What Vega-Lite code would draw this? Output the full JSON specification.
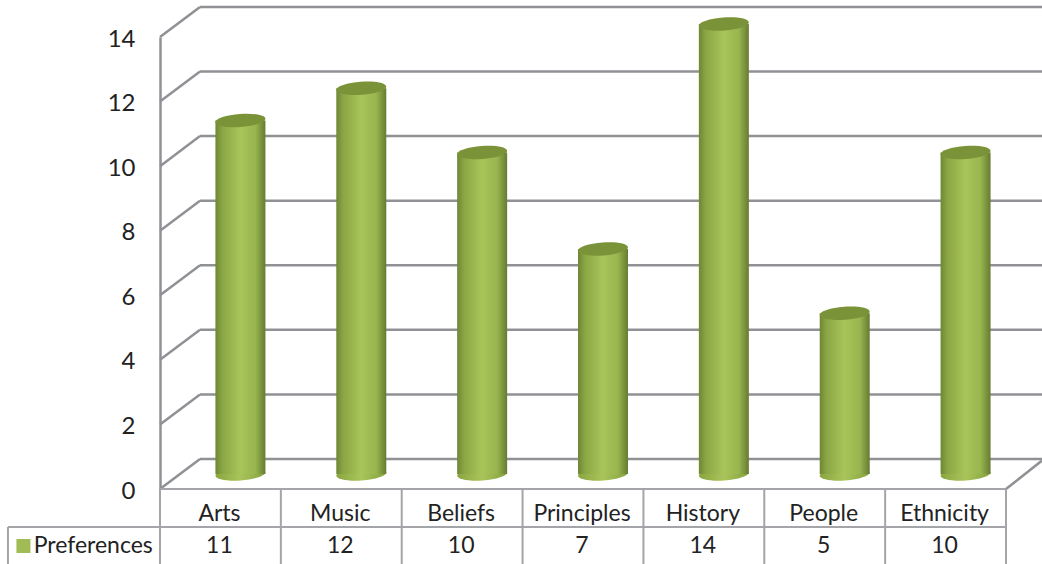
{
  "$schema": "https://vega.github.io/schema/vega-lite/v6.json",
  "width": 1042,
  "height": 564,
  "padding": 0,
  "autosize": {"type": "none"},
  "background": "white",
  "config": {"view": {"stroke": null}},
  "datasets": {
    "prefs": [
      {"topic": "Arts", "value": 11},
      {"topic": "Music", "value": 12},
      {"topic": "Beliefs", "value": 10},
      {"topic": "Principles", "value": 7},
      {"topic": "History", "value": 14},
      {"topic": "People", "value": 5},
      {"topic": "Ethnicity", "value": 10}
    ],
    "walls": [
      {"x0": 0.331, "x1": 7.298, "y0": 0.93, "y1": 0.93},
      {"x0": 0.331, "x1": 7.298, "y0": 2.93, "y1": 2.93},
      {"x0": 0.331, "x1": 7.298, "y0": 4.93, "y1": 4.93},
      {"x0": 0.331, "x1": 7.298, "y0": 6.93, "y1": 6.93},
      {"x0": 0.331, "x1": 7.298, "y0": 8.93, "y1": 8.93},
      {"x0": 0.331, "x1": 7.298, "y0": 10.93, "y1": 10.93},
      {"x0": 0.331, "x1": 7.298, "y0": 12.93, "y1": 12.93},
      {"x0": 0.331, "x1": 7.298, "y0": 14.93, "y1": 14.93},
      {"x0": 0, "x1": 0.331, "y0": 0, "y1": 0.93},
      {"x0": 0, "x1": 0.331, "y0": 2, "y1": 2.93},
      {"x0": 0, "x1": 0.331, "y0": 4, "y1": 4.93},
      {"x0": 0, "x1": 0.331, "y0": 6, "y1": 6.93},
      {"x0": 0, "x1": 0.331, "y0": 8, "y1": 8.93},
      {"x0": 0, "x1": 0.331, "y0": 10, "y1": 10.93},
      {"x0": 0, "x1": 0.331, "y0": 12, "y1": 12.93},
      {"x0": 0, "x1": 0.331, "y0": 14, "y1": 14.93},
      {"x0": 7, "x1": 7.298, "y0": 0, "y1": 0.88}
    ],
    "tableLines": [
      {"x0": 0, "x1": 7, "y0": 0, "y1": 0},
      {"x0": -1.258, "x1": 7, "y0": -1.177, "y1": -1.177},
      {"x0": -1.258, "x1": -1.258, "y0": -1.177, "y1": -2.33},
      {"x0": 0, "x1": 0, "y0": 0, "y1": -2.33},
      {"x0": 1, "x1": 1, "y0": 0, "y1": -2.33},
      {"x0": 2, "x1": 2, "y0": 0, "y1": -2.33},
      {"x0": 3, "x1": 3, "y0": 0, "y1": -2.33},
      {"x0": 4, "x1": 4, "y0": 0, "y1": -2.33},
      {"x0": 5, "x1": 5, "y0": 0, "y1": -2.33},
      {"x0": 6, "x1": 6, "y0": 0, "y1": -2.33},
      {"x0": 7, "x1": 7, "y0": 0, "y1": -2.33}
    ],
    "series": [{"name": "Preferences"}]
  },
  "resolve": {"scale": {"x": "independent", "y": "independent"}, "axis": {"x": "independent", "y": "independent"}},
  "layer": [
    {
      "description": "Back wall, side wall and floor edges, with the value axis",
      "data": {"name": "walls"},
      "mark": {"type": "rule", "stroke": "#8f9195", "strokeWidth": 2.5},
      "encoding": {
        "x": {"field": "x0", "type": "quantitative", "axis": null, "scale": {"domain": [0, 7], "range": [160, 1006], "nice": false, "zero": false}},
        "x2": {"field": "x1"},
        "y": {
          "field": "y0", "type": "quantitative",
          "scale": {"domain": [0, 14], "range": [489, 37], "nice": false, "zero": false},
          "axis": {
            "title": null, "values": [0, 2, 4, 6, 8, 10, 12, 14], "format": "d",
            "offset": -160, "ticks": false, "grid": false,
            "domainColor": "#8f9195", "domainWidth": 2.5,
            "labelPadding": 25, "labelOffset": 2, "labelFont": "Lato", "labelFontSize": 24, "labelColor": "#222222"
          }
        },
        "y2": {"field": "y1"}
      }
    },
    {
      "description": "Data table ruling",
      "data": {"name": "tableLines"},
      "mark": {"type": "rule", "stroke": "#a3a5a9", "strokeWidth": 2},
      "encoding": {
        "x": {"field": "x0", "type": "quantitative", "axis": null, "scale": {"domain": [0, 7], "range": [160, 1006], "nice": false, "zero": false}},
        "x2": {"field": "x1"},
        "y": {"field": "y0", "type": "quantitative", "axis": null, "scale": {"domain": [0, 14], "range": [489, 37], "nice": false, "zero": false}},
        "y2": {"field": "y1"}
      }
    },
    {
      "description": "Table header row: topic names",
      "data": {"name": "prefs"},
      "mark": {"type": "text", "font": "Lato", "fontSize": 23, "fill": "#222222", "baseline": "middle"},
      "encoding": {
        "x": {"field": "topic", "type": "nominal", "sort": null, "axis": null, "scale": {"type": "band", "range": [159, 1005], "padding": 0}},
        "y": {"datum": -0.76, "type": "quantitative", "axis": null, "scale": {"domain": [0, 14], "range": [489, 37], "nice": false, "zero": false}},
        "text": {"field": "topic"}
      }
    },
    {
      "description": "Table value row",
      "data": {"name": "prefs"},
      "mark": {"type": "text", "font": "Lato", "fontSize": 23, "fill": "#222222", "baseline": "middle"},
      "encoding": {
        "x": {"field": "topic", "type": "nominal", "sort": null, "axis": null, "scale": {"type": "band", "range": [159, 1005], "padding": 0}},
        "y": {"datum": -1.765, "type": "quantitative", "axis": null, "scale": {"domain": [0, 14], "range": [489, 37], "nice": false, "zero": false}},
        "text": {"field": "value", "type": "quantitative"}
      }
    },
    {
      "description": "Series key swatch in the table",
      "data": {"name": "series"},
      "mark": {"type": "point", "shape": "square", "filled": true, "fill": "#a2bc55", "opacity": 1, "size": 196},
      "encoding": {
        "x": {"datum": -1.13, "type": "quantitative", "axis": null, "scale": {"domain": [0, 7], "range": [160, 1006], "nice": false, "zero": false}},
        "y": {"datum": -1.765, "type": "quantitative", "axis": null, "scale": {"domain": [0, 14], "range": [489, 37], "nice": false, "zero": false}}
      }
    },
    {
      "description": "Series key label in the table",
      "data": {"name": "series"},
      "mark": {"type": "text", "font": "Lato", "fontSize": 23, "fill": "#222222", "align": "left", "baseline": "middle"},
      "encoding": {
        "x": {"datum": -1.045, "type": "quantitative", "axis": null, "scale": {"domain": [0, 7], "range": [160, 1006], "nice": false, "zero": false}},
        "y": {"datum": -1.765, "type": "quantitative", "axis": null, "scale": {"domain": [0, 14], "range": [489, 37], "nice": false, "zero": false}},
        "text": {"field": "name"}
      }
    },
    {
      "description": "Rounded foot of each cylinder",
      "data": {"name": "prefs"},
      "mark": {
        "type": "point", "filled": true, "opacity": 1, "size": 2500,
        "shape": "M-1,0.07 A1,0.26,-4,0,1,1,-0.07 A1,0.26,-4,0,1,-1,0.07 Z",
        "fill": {"gradient": "linear", "x1": 0, "x2": 1, "y1": 0, "y2": 0, "stops": [
          {"offset": 0, "color": "#8aa53f"}, {"offset": 0.5, "color": "#a8c55a"}, {"offset": 1, "color": "#86a13c"}
        ]}
      },
      "encoding": {
        "x": {"field": "topic", "type": "nominal", "sort": null, "axis": null, "scale": {"type": "band", "range": [180, 1026], "padding": 0}},
        "y": {"datum": 0, "type": "quantitative", "axis": null, "scale": {"domain": [0, 14], "range": [474, 24], "nice": false, "zero": false}}
      }
    },
    {
      "description": "Cylinder bodies, shaded across their width",
      "data": {"name": "prefs"},
      "mark": {
        "type": "bar", "width": 50,
        "fill": {"gradient": "linear", "x1": 0, "x2": 1, "y1": 0, "y2": 0, "stops": [
          {"offset": 0, "color": "#6e8735"},
          {"offset": 0.14, "color": "#8ba644"},
          {"offset": 0.5, "color": "#a8c55a"},
          {"offset": 0.8, "color": "#98b54f"},
          {"offset": 1, "color": "#667c30"}
        ]}
      },
      "encoding": {
        "x": {"field": "topic", "type": "nominal", "sort": null, "axis": null, "scale": {"type": "band", "range": [180, 1026], "padding": 0}},
        "y": {"field": "value", "type": "quantitative", "axis": null, "scale": {"domain": [0, 14], "range": [474, 24], "nice": false, "zero": false}},
        "y2": {"datum": 0}
      }
    },
    {
      "description": "Darker top cap of each cylinder",
      "data": {"name": "prefs"},
      "mark": {
        "type": "point", "filled": true, "opacity": 1, "size": 2500, "fill": "#7a9339",
        "shape": "M-1,0.07 A1,0.26,-4,0,1,1,-0.07 A1,0.26,-4,0,1,-1,0.07 Z"
      },
      "encoding": {
        "x": {"field": "topic", "type": "nominal", "sort": null, "axis": null, "scale": {"type": "band", "range": [180, 1026], "padding": 0}},
        "y": {"field": "value", "type": "quantitative", "axis": null, "scale": {"domain": [0, 14], "range": [474, 24], "nice": false, "zero": false}}
      }
    }
  ]
}
